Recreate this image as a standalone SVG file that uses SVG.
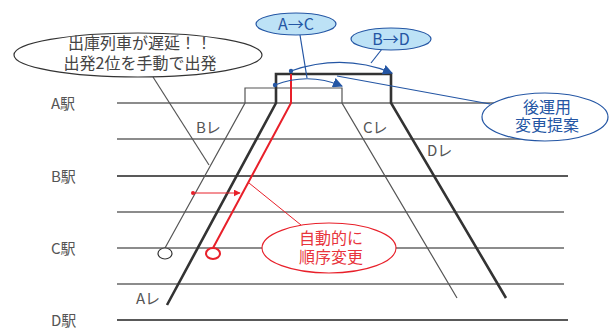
<svg xmlns="http://www.w3.org/2000/svg" width="611" height="331" viewBox="0 0 611 331">
<style>
text{font-family:"Noto Sans CJK JP","Noto Sans",sans-serif;}
.st{font-size:15px;fill:#555;}
.lb{font-size:15px;fill:#555;}
.grid{stroke:#666;stroke-width:1.3;fill:none;}
.gridd{stroke:#222;stroke-width:1.3;fill:none;}
.thick{stroke:#333;stroke-width:2.6;fill:none;}
.thin{stroke:#555;stroke-width:1.2;fill:none;}
.red{stroke:#e8202a;stroke-width:2;fill:none;}
.redt{stroke:#e8202a;stroke-width:1;fill:none;}
.blue{stroke:#2456a4;stroke-width:1.2;fill:none;}
.bt{font-size:16px;fill:#2456a4;text-anchor:middle;}
.rt{font-size:16px;fill:#e8343c;text-anchor:middle;}
.kt{font-size:16px;fill:#444;text-anchor:middle;}
</style>
<defs>
<marker id="ab" viewBox="0 0 10 10" refX="9" refY="5" markerWidth="10" markerHeight="10" markerUnits="userSpaceOnUse" orient="auto">
<path d="M0,0 L10,5 L0,10 Z" fill="#2456a4"/>
</marker>
<marker id="ar" viewBox="0 0 10 10" refX="9" refY="5" markerWidth="7" markerHeight="7" markerUnits="userSpaceOnUse" orient="auto">
<path d="M0,0 L10,5 L0,10 Z" fill="#e8202a"/>
</marker>
</defs>
<rect width="611" height="331" fill="#fff"/>
<g id="grid">
<line class="grid" x1="117" y1="103" x2="564" y2="103"/>
<line class="grid" x1="117" y1="139" x2="564" y2="139"/>
<line class="gridd" x1="117" y1="176" x2="568" y2="176"/>
<line class="grid" x1="117" y1="212" x2="564" y2="212"/>
<line class="grid" x1="117" y1="248" x2="564" y2="248"/>
<line class="grid" x1="117" y1="284" x2="564" y2="284"/>
<line class="gridd" x1="117" y1="320" x2="568" y2="320"/>
</g>
<g id="stations">
<text class="st" x="51" y="109">A駅</text>
<text class="st" x="51" y="182">B駅</text>
<text class="st" x="51" y="254">C駅</text>
<text class="st" x="51" y="326">D駅</text>
</g>
<g id="trains">
<path id="trainB" class="thin" d="M165,248 L245,103 L245,88 L342,88 L342,103 L457,298"/>
<path id="trainA" class="thick" d="M167,305 L276,103 L276,74 L391,74 L391,103 L506,298"/>
<path id="trainRed" class="red" d="M213,248 L291,103 L291,74"/>
<ellipse cx="165" cy="253.5" rx="7" ry="5.5" fill="#fff" stroke="#333" stroke-width="1.2"/>
<ellipse cx="213" cy="253.5" rx="7" ry="5.5" fill="#fff" stroke="#e8202a" stroke-width="2"/>
<text class="lb" x="196" y="133">Bレ</text>
<text class="lb" x="363" y="133">Cレ</text>
<text class="lb" x="427" y="156">Dレ</text>
<text class="lb" x="136" y="304">Aレ</text>
</g>
<g id="connectors">
<line x1="153" y1="77" x2="209" y2="165" stroke="#555" stroke-width="1.2"/>
<line class="redt" x1="193" y1="193" x2="240" y2="193" marker-end="url(#ar)"/>
<circle cx="193" cy="193" r="2" fill="#e8202a"/>
<line class="redt" x1="249" y1="183" x2="301" y2="225"/>
<path class="blue" d="M275,85 Q308,72 342,86" marker-end="url(#ab)"/>
<circle cx="275" cy="85" r="2.2" fill="#2456a4"/>
<path class="blue" d="M291,71 Q343,53 392,73" marker-end="url(#ab)"/>
<circle cx="291" cy="71" r="2.2" fill="#2456a4"/>
<line class="blue" x1="300" y1="35" x2="307" y2="78"/>
<line class="blue" x1="382" y1="49" x2="371" y2="63"/>
<line class="blue" x1="337" y1="76" x2="490" y2="104"/>
</g>
<g id="noteDelay">
<ellipse cx="138" cy="55" rx="124" ry="22" fill="#fff" stroke="#333" stroke-width="1.2"/>
<text class="kt" x="140" y="49">出庫列車が遅延！！</text>
<text class="kt" x="140" y="69">出発2位を手動で出発</text>
</g>
<g id="noteAC">
<ellipse cx="296" cy="24" rx="40" ry="11" fill="#bde2f6" stroke="#2456a4" stroke-width="1.2"/>
<text class="bt" x="296" y="30">A→C</text>
</g>
<g id="noteBD">
<ellipse cx="391" cy="39" rx="40" ry="11" fill="#bde2f6" stroke="#2456a4" stroke-width="1.2"/>
<text class="bt" x="391" y="45">B→D</text>
</g>
<g id="notePropose">
<ellipse cx="545" cy="117" rx="63" ry="24" fill="#fff" stroke="#2456a4" stroke-width="1.2"/>
<text class="bt" x="547" y="113">後運用</text>
<text class="bt" x="547" y="131">変更提案</text>
</g>
<g id="noteAuto">
<ellipse cx="329" cy="248" rx="67" ry="25" fill="#fff" stroke="#e8202a" stroke-width="1.2"/>
<text class="rt" x="331" y="244">自動的に</text>
<text class="rt" x="331" y="263">順序変更</text>
</g>
</svg>
